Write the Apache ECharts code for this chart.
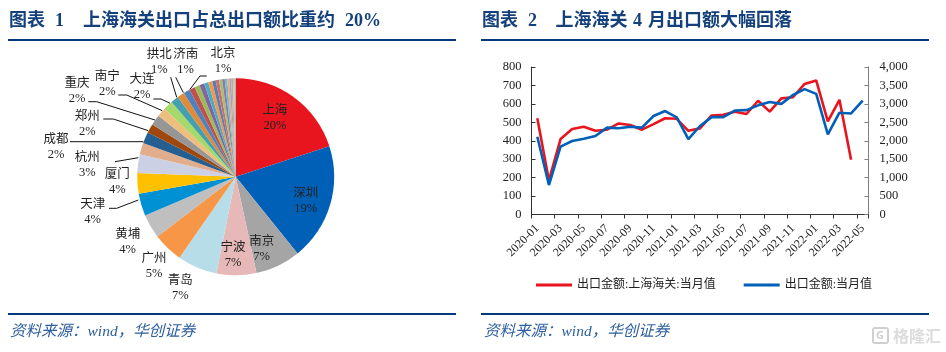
<!DOCTYPE html>
<html><head><meta charset="utf-8">
<style>html,body{margin:0;padding:0;background:#fff}#c{width:946px;height:352px}</style>
<script src="https://cdn.jsdelivr.net/npm/echarts@6/dist/echarts.min.js"></script>
</head><body><div id="c"></div>
<script>
const pieNames=['上海','深圳','南京','宁波','青岛','广州','黄埔','天津','厦门','杭州','成都','郑州','重庆','南宁','大连','拱北','济南','北京','t1','t2','t3','t4','t5','t6','t7','t8','t9','t10','t11','t12','t13','t14','t15','t16'];
const pieValues=[20.2,19.4,7.5,6.6,6.6,5.0,4.0,3.7,3.4,3.1,1.9,1.9,1.5,1.75,1.5,1.6,1.3,1.2,1.05,0.95,0.85,0.8,0.7,0.65,0.6,0.55,0.5,0.45,0.4,0.35,0.3,0.3,0.25,0.2];
const pieLabels=['20%','19%','7%','7%','7%','5%','4%','4%','4%','3%','2%','2%','2%','2%','2%','1%','1%','1%'];
const pieColors=['#E8141E','#0060B8','#A5A5A5','#E6B9B8','#B7DEE8','#F79646','#BFBFBF','#0090D4','#FFC000','#CCD0E4','#E1AD8D','#255E91','#9E480E','#969696','#EDBE7E','#A6D96A','#43A0B0','#E08A3C','#4F81BD','#C0504D','#9BBB59','#8064A2','#4BACC6','#F79646','#5B7FB5','#C9706C','#A4C26B','#8F78AE','#6FBBD0','#F4A96C','#8FA8CF','#D1A0A0','#B9CE95','#B0B0B0'];
const months=['2020-01','2020-02','2020-03','2020-04','2020-05','2020-06','2020-07','2020-08','2020-09','2020-10','2020-11','2020-12','2021-01','2021-02','2021-03','2021-04','2021-05','2021-06','2021-07','2021-08','2021-09','2021-10','2021-11','2021-12','2022-01','2022-02','2022-03','2022-04','2022-05'];
const shanghaiExport=[522,185,409,464,476,454,460,494,485,460,490,522,519,454,467,537,541,557,545,617,558,630,636,708,727,505,622,297,null];
const totalExport=[2110,800,1840,1993,2055,2128,2355,2337,2380,2355,2670,2806,2635,2047,2400,2640,2640,2820,2830,2960,3050,3000,3240,3400,3270,2170,2760,2740,3090];
const leftTicks=[0,800,100], rightTicks=[0,4000,500];
const labelPlace={'上海':[275,118.5],'深圳':[305.7,201.5],'南京':[261.7,249.5],'宁波':[233,255.3],'青岛':[180.3,288.5],'广州':[154,266],'黄埔':[127.7,242.5],'天津':[92.7,212],'厦门':[117.3,182],'杭州':[87.3,165],'成都':[56,147],'郑州':[87.3,124.7],'重庆':[77,91],'南宁':[107.3,84],'大连':[142,87.7],'拱北':[159.3,62.5],'济南':[185.7,62.5],'北京':[223,61]};
const leaderLines={'天津':[[109,208.3],[116.7,208.3],[138.3,200]],'杭州':[[115,161.7],[138.3,157.7]],'成都':[[70,141.7],[143.3,141.7]],'郑州':[[103.3,119],[113.3,119],[148.3,130.7]],'重庆':[[88.3,101.7],[96.7,101.7],[155,120]],'南宁':[[118.3,95],[126.7,95],[162.3,110.7]],'大连':[[153.3,99],[161,99],[170,103.3]],'拱北':[[170.7,77.3],[176.7,97.3]],'济南':[[175.7,77.3],[183.3,92.7]],'北京':[[206.7,76],[200,76],[190,89.3]]};
const serif="'Liberation Serif','Noto Sans CJK SC',serif";
const titleBlue='#14407C', ruleBlue='#003A7D', srcBlue='#2E5F9E';
const pieData=pieNames.map((n,i)=>({name:n,value:pieValues[i],
  itemStyle:{color:pieColors[i]},
  label:{show:i<pieLabels.length,formatter:n+'\n'+(pieLabels[i]||'')},
  labelLine:{show:!!leaderLines[n]}}));
function rule(x1,x2,y){return {type:'rect',silent:true,shape:{x:x1,y:y,width:x2-x1,height:2},style:{fill:ruleBlue}};}
function txt(x,y,t,font,fill){return {type:'text',silent:true,x:x,y:y,style:{text:t,font:font,fill:fill,textVerticalAlign:'middle'}};}
const tf="bold 18px "+serif;
const chart=echarts.init(document.getElementById('c'),null,{renderer:'canvas'});
chart.setOption({
  animation:false,backgroundColor:'#fff',
  textStyle:{fontFamily:serif},
  graphic:[
    rule(8,456,39),rule(481,929,39),rule(8,456,313),rule(481,929,313),
    txt(9,21,'图表',tf,titleBlue),txt(55,21,'1',tf,titleBlue),txt(83,21,'上海海关出口占总出口额比重约',tf,titleBlue),txt(345,21,'20%',tf,titleBlue),
    txt(482,21,'图表',tf,titleBlue),txt(528,21,'2',tf,titleBlue),txt(555.5,21,'上海海关',tf,titleBlue),txt(633,21,'4',tf,titleBlue),txt(648,21,'月出口额大幅回落',tf,titleBlue),
    txt(10,332,'资料来源：wind，华创证券',"italic 15.5px "+serif,srcBlue),
    txt(484,332,'资料来源：wind，华创证券',"italic 15.5px "+serif,srcBlue),
    {type:'rect',silent:true,shape:{x:873,y:328,width:15,height:15,r:2},style:{fill:'none',stroke:'#d0d0d0',lineWidth:2}},
    txt(876,336,'G',"bold 11px 'Noto Sans'",'#d0d0d0'),
    txt(893,336,'格隆汇',"bold 16px 'Noto Sans CJK SC'",'#dcdcdc')
  ],
  grid:{left:531.5,top:67,width:337,height:147.5,containLabel:false},
  xAxis:{type:'category',data:months,boundaryGap:true,
    axisLine:{lineStyle:{color:'#333',width:1}},
    axisTick:{show:true,interval:1,alignWithLabel:false,length:4,lineStyle:{color:'#333'}},
    axisLabel:{interval:1,rotate:45,fontSize:12,color:'#222',margin:12,fontFamily:serif}},
  yAxis:[
    {type:'value',min:leftTicks[0],max:leftTicks[1],interval:leftTicks[2],splitLine:{show:false},
     axisLine:{show:true,lineStyle:{color:'#333'}},axisTick:{show:true,inside:true,length:4,lineStyle:{color:'#333'}},
     axisLabel:{fontSize:12.5,color:'#222',margin:10,fontFamily:serif}},
    {type:'value',min:rightTicks[0],max:rightTicks[1],interval:rightTicks[2],splitLine:{show:false},
     axisLine:{show:true,lineStyle:{color:'#808080'}},axisTick:{show:true,inside:true,length:4,lineStyle:{color:'#808080'}},
     axisLabel:{fontSize:12.5,color:'#222',margin:11,fontFamily:serif,formatter:v=>v.toLocaleString('en-US')}}
  ],
  legend:{show:true,data:['出口金额:上海海关:当月值','出口金额:当月值'],left:536,top:279,itemGap:28,itemWidth:36,itemHeight:3,
    icon:'rect',textStyle:{fontSize:12,color:'#222',fontFamily:serif},padding:0},
  series:[
    {type:'pie',name:'占比',center:[235.7,176.8],radius:[0,98.5],startAngle:90,clockwise:true,sort:false,
     minAngle:0,avoidLabelOverlap:false,data:pieData,
     itemStyle:{borderColor:'#fff',borderWidth:0},
     label:{position:'outside',fontSize:12.5,lineHeight:15,color:'#222',fontFamily:serif,align:'center',verticalAlign:'middle'},
     labelLine:{show:true,lineStyle:{color:'#111',width:1}},
     labelLayout:function(p){
       const n=pieNames[p.dataIndex], at=labelPlace[n]; if(!at) return {};
       const o={x:at[0],y:at[1],align:'center',verticalAlign:'middle'};
       if(leaderLines[n]) o.labelLinePoints=leaderLines[n];
       return o;
     },
     emphasis:{disabled:true}},
    {type:'line',name:'出口金额:上海海关:当月值',data:shanghaiExport,yAxisIndex:0,showSymbol:false,lineStyle:{color:'#E8141E',width:2.6},itemStyle:{color:'#E8141E'},z:3},
    {type:'line',name:'出口金额:当月值',data:totalExport,yAxisIndex:1,showSymbol:false,lineStyle:{color:'#0060B8',width:2.6},itemStyle:{color:'#0060B8'},z:4}
  ]
});
</script></body></html>
